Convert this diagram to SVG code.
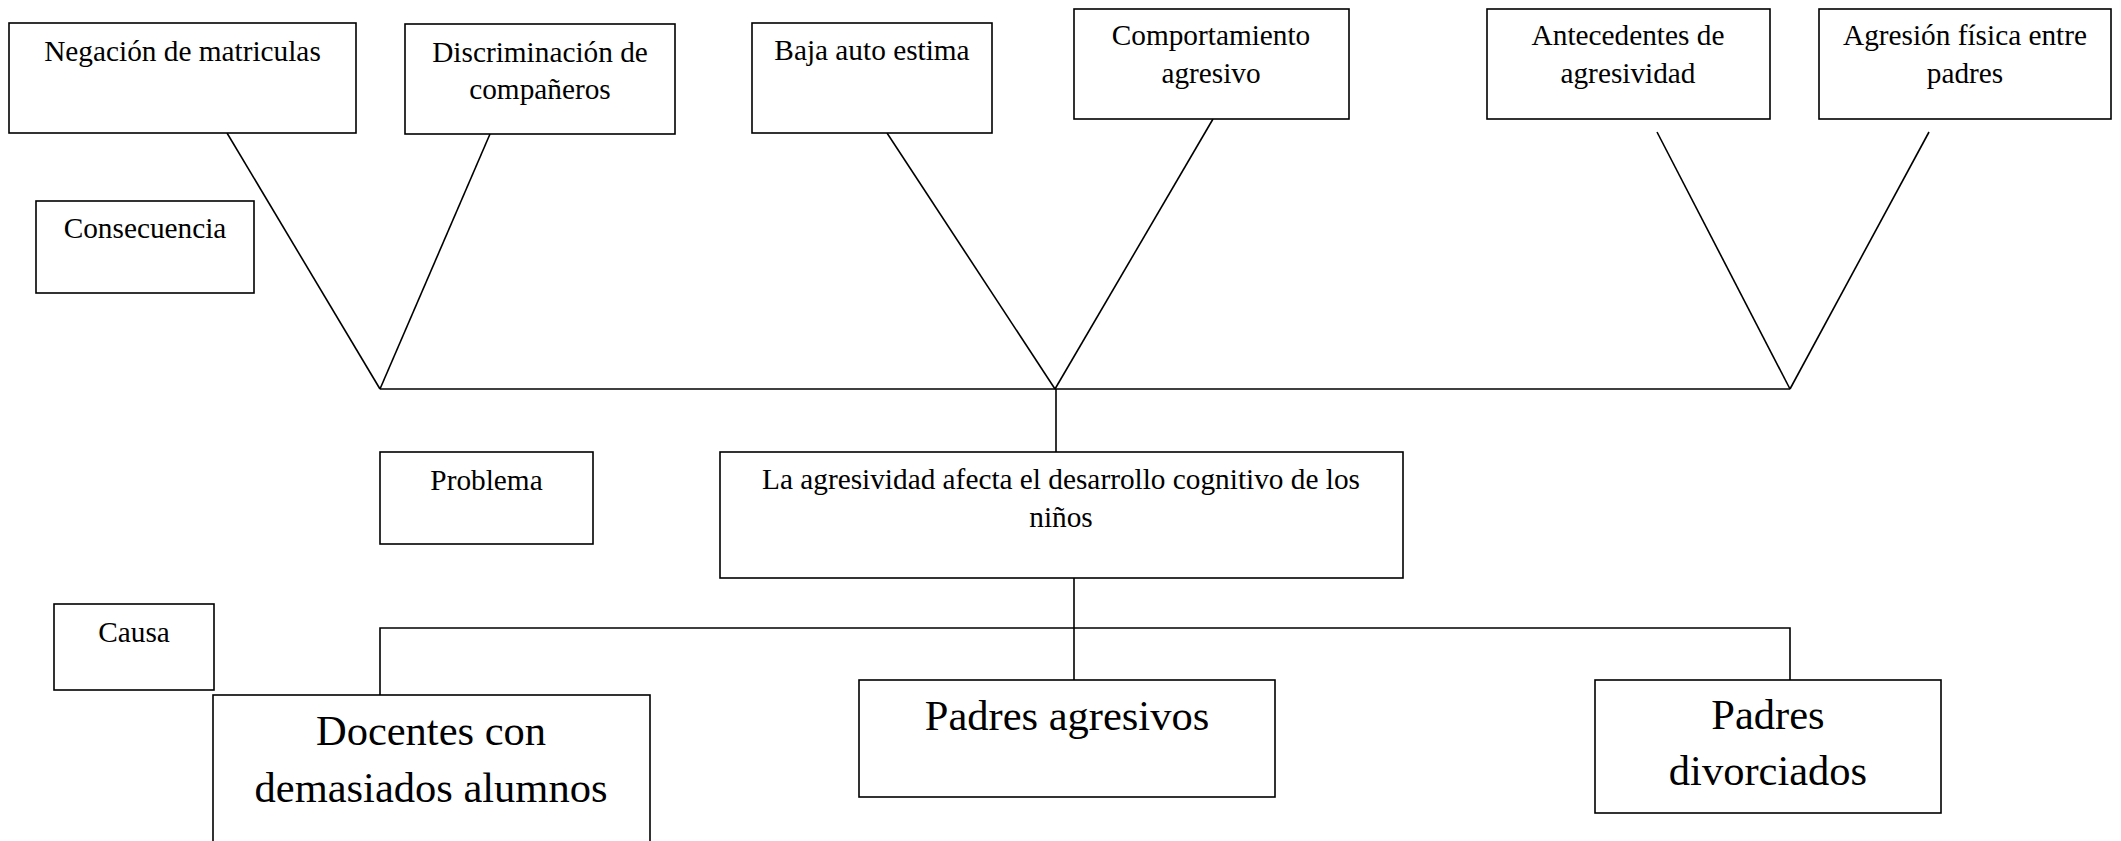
<svg xmlns="http://www.w3.org/2000/svg" width="2121" height="841" viewBox="0 0 2121 841">
<style>
.box{fill:#fff;stroke:#000;stroke-width:1.6}
.ln{fill:none;stroke:#000;stroke-width:1.6}
text{font-family:'Liberation Serif','Times New Roman','DejaVu Serif',serif;fill:#000;text-anchor:middle}
.t{font-size:29.3px}
.tl{font-size:42.5px}
</style>
<rect width="2121" height="841" fill="#fff"/>
<g id="connectors">
<line class="ln" x1="227" y1="133" x2="380" y2="389"/>
<line class="ln" x1="490" y1="134" x2="380" y2="389"/>
<line class="ln" x1="887" y1="133" x2="1055" y2="389"/>
<line class="ln" x1="1213" y1="119" x2="1055" y2="389"/>
<line class="ln" x1="1657" y1="132" x2="1790" y2="389"/>
<line class="ln" x1="1929" y1="132" x2="1790" y2="389"/>
<line class="ln" x1="380" y1="389" x2="1790" y2="389"/>
<line class="ln" x1="1056" y1="389" x2="1056" y2="452"/>
<line class="ln" x1="1074" y1="578" x2="1074" y2="680"/>
<polyline class="ln" points="380,695 380,628 1790,628 1790,680"/>
</g>
<g id="n-negacion"><rect class="box" x="9" y="23" width="347" height="110"/><text class="t" x="182.5" y="61">Negación de matriculas</text></g>
<g id="n-discriminacion"><rect class="box" x="405" y="24" width="270" height="110"/><text class="t" x="540" y="62">Discriminación de</text><text class="t" x="540" y="99">compañeros</text></g>
<g id="n-consecuencia"><rect class="box" x="36" y="201" width="218" height="92"/><text class="t" x="145" y="238">Consecuencia</text></g>
<g id="n-baja"><rect class="box" x="752" y="23" width="240" height="110"/><text class="t" x="872" y="60">Baja auto estima</text></g>
<g id="n-comportamiento"><rect class="box" x="1074" y="9" width="275" height="110"/><text class="t" x="1211" y="45">Comportamiento</text><text class="t" x="1211" y="83">agresivo</text></g>
<g id="n-antecedentes"><rect class="box" x="1487" y="9" width="283" height="110"/><text class="t" x="1628" y="45">Antecedentes de</text><text class="t" x="1628" y="83">agresividad</text></g>
<g id="n-agresion"><rect class="box" x="1819" y="9" width="292" height="110"/><text class="t" x="1965" y="45">Agresión física entre</text><text class="t" x="1965" y="83">padres</text></g>
<g id="n-problema-label"><rect class="box" x="380" y="452" width="213" height="92"/><text class="t" x="486.5" y="490">Problema</text></g>
<g id="n-problema"><rect class="box" x="720" y="452" width="683" height="126"/><text class="t" x="1061" y="489">La agresividad afecta el desarrollo cognitivo de los</text><text class="t" x="1061" y="527">niños</text></g>
<g id="n-causa"><rect class="box" x="54" y="604" width="160" height="86"/><text class="t" x="134" y="642">Causa</text></g>
<g id="n-docentes"><rect class="box" x="213" y="695" width="437" height="170"/><text class="tl" x="431" y="745">Docentes con</text><text class="tl" x="431" y="802">demasiados alumnos</text></g>
<g id="n-padres-agresivos"><rect class="box" x="859" y="680" width="416" height="117"/><text class="tl" x="1067" y="730">Padres agresivos</text></g>
<g id="n-padres-divorciados"><rect class="box" x="1595" y="680" width="346" height="133"/><text class="tl" x="1768" y="729">Padres</text><text class="tl" x="1768" y="785">divorciados</text></g>
</svg>
